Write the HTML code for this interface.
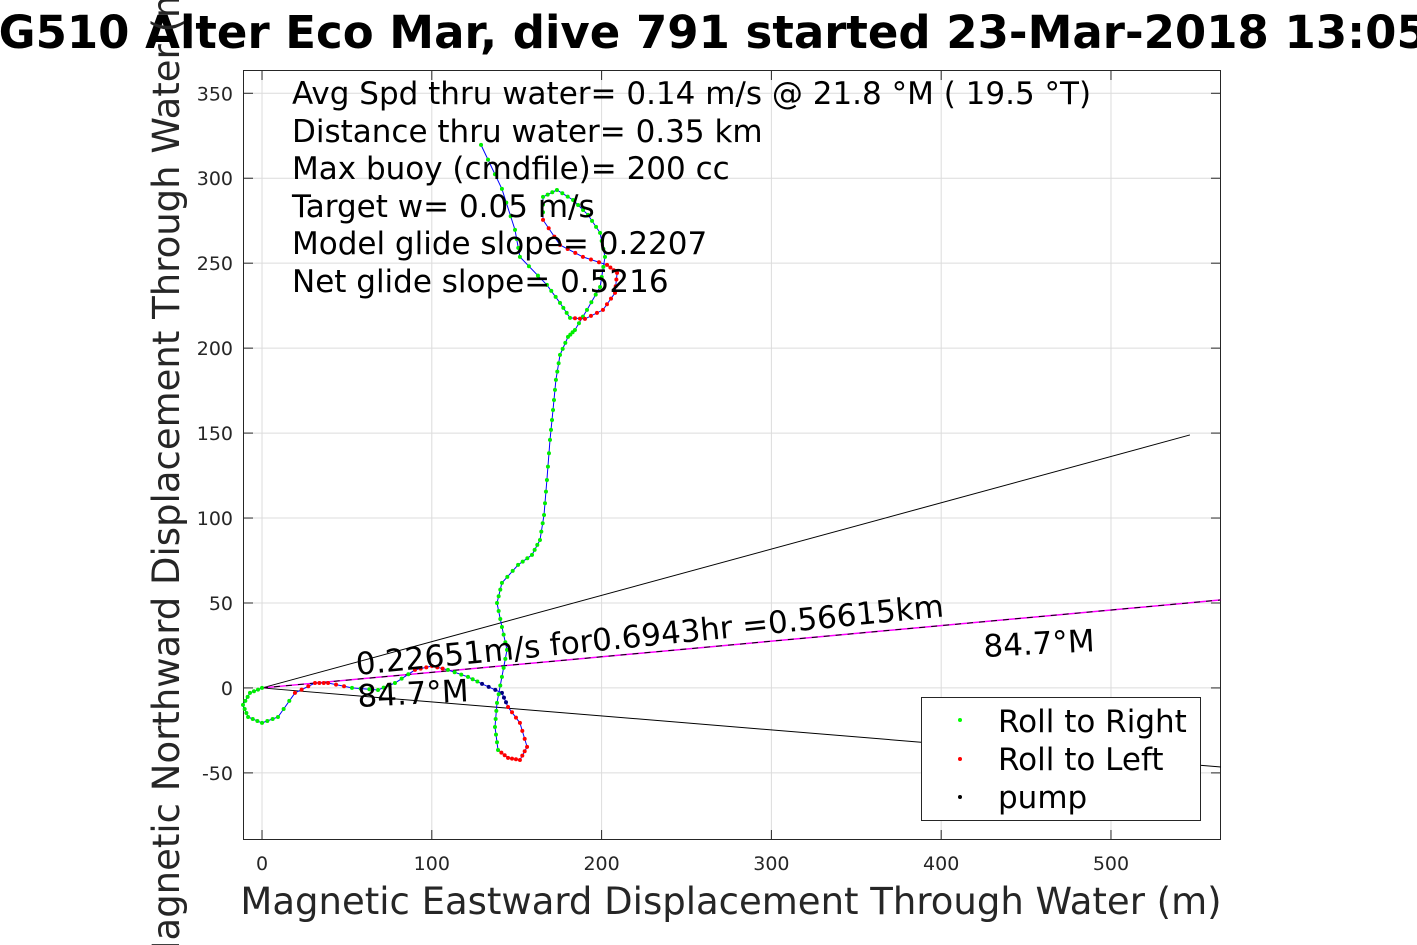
<!DOCTYPE html>
<html><head><meta charset="utf-8"><style>
html,body{margin:0;padding:0;background:#fff;}
svg{display:block;font-family:"DejaVu Sans","Liberation Sans",sans-serif;}
</style></head><body>
<svg id="chart" width="1417" height="945" viewBox="0 0 1417 945">
<rect x="0" y="0" width="1417" height="945" fill="#fff"/>
<g id="grid"></g>
<g id="axes"></g>
<g id="series"></g>
<text x="697" y="48" text-anchor="middle" font-size="45" font-weight="bold" fill="#000">SG510 Alter Eco Mar, dive 791 started 23-Mar-2018 13:05</text>
<g font-size="31" fill="#000" style="white-space:pre">
<text x="292" y="104">Avg Spd thru water=  0.14 m/s @  21.8 °M ( 19.5 °T)</text>
<text x="292" y="142">Distance thru water=  0.35 km</text>
<text x="292" y="179">Max buoy (cmdfile)= 200 cc</text>
<text x="292" y="217">Target w= 0.05 m/s</text>
<text x="292" y="254">Model glide slope= 0.2207</text>
<text x="292" y="292">Net glide slope= 0.5216</text>
</g>
<text font-size="31" transform="translate(357,675) rotate(-5.7)">0.22651m/s for0.6943hr =0.56615km</text>
<text font-size="31" transform="translate(358,707) rotate(-3)">84.7°M</text>
<text font-size="31" transform="translate(984,657) rotate(-3)">84.7°M</text>
<text x="731" y="914" text-anchor="middle" font-size="37" fill="#262626">Magnetic Eastward Displacement Through Water (m)</text>
<text transform="translate(179,470) rotate(-90)" text-anchor="middle" font-size="37" fill="#262626">Magnetic Northward Displacement Through Water (m)</text>
<g>
<rect x="921.5" y="697.5" width="279" height="123" fill="#fff" stroke="#262626" stroke-width="1"/>
<circle cx="960" cy="720" r="2" fill="#00ff00"/>
<text x="998" y="732" font-size="31">Roll to Right</text>
<circle cx="960" cy="759" r="2" fill="#ff0000"/>
<text x="998" y="770" font-size="31">Roll to Left</text>
<circle cx="960" cy="797" r="2" fill="#000"/>
<text x="998" y="808" font-size="31">pump</text>
</g>
</svg>
<script>
const xTicks=[0,100,200,300,400,500];
const yTicks=[-50,0,50,100,150,200,250,300,350];
const trackX=[0,-7.1,-11.2,-8.2,0,9.4,19.4,31.2,38.9,53,68.3,78.3,90.1,100.1,109.5,121.3,129.6,141.3,144.9,151.9,156.1,151.9,144.9,139,137.2,138.4,141.3,144.3,141.3,138.4,141.3,150.8,159,163.7,166.1,167.8,169.6,171.4,173.1,175.5,180.2,184.3,191.4,199.1,202,199.1,192,183.2,173.7,165.5,165.5,175.5,189,203.2,209.1,207.9,200.8,190.2,181.4,175.5,167.8,151.9,149,141.3,129];
const trackY=[0,-2.9,-10,-17.1,-20.6,-17.1,-2.9,2.9,2.9,0,-1.2,2.9,10.6,12.9,10.6,6.5,2.4,-2.9,-11.2,-20.6,-34.7,-42.4,-41.2,-36.5,-23,-8.8,6.5,22.4,35.9,50,61.8,72.4,78.3,87.1,101.8,122.4,146,163.6,181.3,196,206.6,210.7,222.5,236,253.7,267.8,278.4,287.2,293.1,289,275.5,260.7,253.7,249,244.3,232.5,222.5,217.2,217.8,226.6,237.2,253.7,269.6,293.7,319.6];
const rollState=["R","R","R","R","R","R","L","L","L","R","R","R","L","L","R","R","P","P","L","L","L","L","L","R","R","R","R","R","R","R","R","R","R","R","R","R","R","R","R","R","R","R","R","R","R","R","R","R","R","R","L","L","L","L","L","L","L","L","R","R","R","R","R","R","R"];
const headingLinesEnd=[[546.5,148.9],[564.8,-46.5]];
const currentLineEnd=[564.8,51.8];
const xMin=-11.2,xMax=564.8,yMin=-89.5,yMax=363.7;
const L=243,R=1221,T=70,B=840;
const sx=v=>L+(v-xMin)/(xMax-xMin)*(R-L);
const sy=v=>B-(v-yMin)/(yMax-yMin)*(B-T);
const NS="http://www.w3.org/2000/svg";
function mk(tag,attrs,parent){const e=document.createElementNS(NS,tag);for(const k in attrs)e.setAttribute(k,attrs[k]);parent.appendChild(e);return e;}
const grid=document.getElementById('grid'),axes=document.getElementById('axes'),ser=document.getElementById('series');
xTicks.forEach(t=>{const x=sx(t);
const g=mk('line',{x1:x,x2:x,y1:T,y2:B,stroke:'#dcdcdc','stroke-width':1},grid);


mk('line',{x1:x,x2:x,y1:B,y2:B-10,stroke:'#262626'},axes);
mk('line',{x1:x,x2:x,y1:T,y2:T+10,stroke:'#262626'},axes);
const l=mk('text',{x:x,y:870,'text-anchor':'middle','font-size':19,fill:'#262626'},axes);


l.textContent=t;});
yTicks.forEach(t=>{const y=sy(t);
const g=mk('line',{x1:L,x2:R,y1:y,y2:y,stroke:'#dcdcdc','stroke-width':1},grid);


mk('line',{x1:L,x2:L+10,y1:y,y2:y,stroke:'#262626'},axes);
mk('line',{x1:R,x2:R-10,y1:y,y2:y,stroke:'#262626'},axes);
const l=mk('text',{x:233,y:y+7,'text-anchor':'end','font-size':19,fill:'#262626'},axes);


l.textContent=t;});
const box=mk('rect',{x:L+0.5,y:T+0.5,width:R-L-1,height:B-T-1,fill:'none',stroke:'#262626','stroke-width':1},axes);


headingLinesEnd.forEach(p=>{const l=mk('line',{x1:sx(0),y1:sy(0),x2:sx(p[0]),y2:sy(p[1]),stroke:'#000','stroke-width':1},ser);

});
const cl=mk('line',{x1:sx(0),y1:sy(0),x2:sx(currentLineEnd[0]),y2:sy(currentLineEnd[1]),stroke:'#ff00ff','stroke-width':1.5},ser);


const cl2=mk('line',{x1:sx(0),y1:sy(0),x2:sx(currentLineEnd[0]),y2:sy(currentLineEnd[1]),stroke:'#000','stroke-width':1,'stroke-dasharray':'6 6'},ser);


let d='';trackX.forEach((v,i)=>{d+=(i?'L':'M')+sx(v).toFixed(1)+','+sy(trackY[i]).toFixed(1);});
const path=mk('path',{d:d,fill:'none',stroke:'#0000ff','stroke-width':1},ser);


const col={R:'#00ee00',L:'#ff0000',P:'#000080'};
trackX.forEach((v,i)=>{
const pts=[[v,trackY[i]]];
if(i<trackX.length-1){for(let k=1;k<3;k++){const f=k/3;pts.push([v+(trackX[i+1]-v)*f,trackY[i]+(trackY[i+1]-trackY[i])*f]);}}
pts.forEach(p=>{const c=mk('circle',{cx:sx(p[0]),cy:sy(p[1]),r:2,fill:col[rollState[i]]},ser);

});});
</script>
</body></html>
